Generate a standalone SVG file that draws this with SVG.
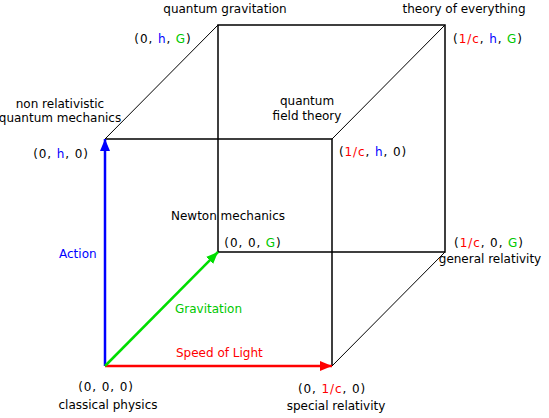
<svg xmlns="http://www.w3.org/2000/svg" width="549" height="418" viewBox="0 0 549 418">
<style>
text{font-family:"DejaVu Sans","Liberation Sans",sans-serif;font-size:12px;fill:#000}
.m{text-anchor:middle}
.c{letter-spacing:0.9px}
.r{fill:#ff0000}.b{fill:#0000ff}.g{fill:#00c800}
.edge{stroke:#000;stroke-width:1.5;fill:none}
.diag{stroke:#000;stroke-width:1;fill:none}
</style>
<defs>
<marker id="ab" markerUnits="userSpaceOnUse" markerWidth="12" markerHeight="10" refX="12" refY="5" orient="auto"><path d="M0,0 L12,5 L0,10 Z" fill="#0000ff"/></marker>
<marker id="ar" markerUnits="userSpaceOnUse" markerWidth="12" markerHeight="10" refX="12" refY="5" orient="auto"><path d="M0,0 L12,5 L0,10 Z" fill="#ff0000"/></marker>
<marker id="ag" markerUnits="userSpaceOnUse" markerWidth="12" markerHeight="10" refX="12" refY="5" orient="auto"><path d="M0,0 L12,5 L0,10 Z" fill="#00dd00"/></marker>
</defs>
<g id="connectors">
<path class="edge" d="M105,139 H332 V366"/>
<path class="edge" d="M218,252 V25 H445 V252 H218"/>
<path class="diag" d="M105,139 L218,25 M332,139 L445,25 M332,366 L445,252"/>
<line x1="105" y1="366" x2="105" y2="139" stroke="#0000ff" stroke-width="2.5" marker-end="url(#ab)"/>
<line x1="105" y1="366" x2="332" y2="366" stroke="#ff0000" stroke-width="2.5" marker-end="url(#ar)"/>
<line x1="105" y1="366" x2="218" y2="252" stroke="#00dd00" stroke-width="2.5" marker-end="url(#ag)"/>
</g>
<g id="axis-labels">
<text x="59" y="258" class="b">Action</text>
<text x="175" y="313" class="g">Gravitation</text>
<text x="176" y="357" class="r">Speed of Light</text>
</g>
<g id="classical"><text x="106" y="391" class="m c">(0, 0, 0)</text><text x="108" y="409" class="m">classical physics</text></g>
<g id="special"><text x="332" y="393" class="m c">(0, <tspan class="r">1/c</tspan>, 0)</text><text x="336" y="410" class="m">special relativity</text></g>
<g id="nonrel"><text x="60" y="108" class="m">non relativistic</text><text x="60" y="122" class="m">quantum mechanics</text><text x="61" y="158" class="m c">(0, <tspan class="b">h</tspan>, 0)</text></g>
<g id="qft"><text x="307" y="105" class="m">quantum</text><text x="307" y="120" class="m">field theory</text><text x="373" y="156" class="m c">(<tspan class="r">1/c</tspan>, <tspan class="b">h</tspan>, 0)</text></g>
<g id="newton"><text x="228" y="220" class="m">Newton mechanics</text><text x="253" y="247" class="m c">(0, 0, <tspan class="g">G</tspan>)</text></g>
<g id="genrel"><text x="489" y="247" class="m c">(<tspan class="r">1/c</tspan>, 0, <tspan class="g">G</tspan>)</text><text x="490" y="263" class="m">general relativity</text></g>
<g id="qgrav"><text x="225" y="13" class="m">quantum gravitation</text><text x="163" y="43" class="m c">(0, <tspan class="b">h</tspan>, <tspan class="g">G</tspan>)</text></g>
<g id="toe"><text x="464" y="13" class="m">theory of everything</text><text x="488" y="43" class="m c">(<tspan class="r">1/c</tspan>, <tspan class="b">h</tspan>, <tspan class="g">G</tspan>)</text></g>
</svg>
